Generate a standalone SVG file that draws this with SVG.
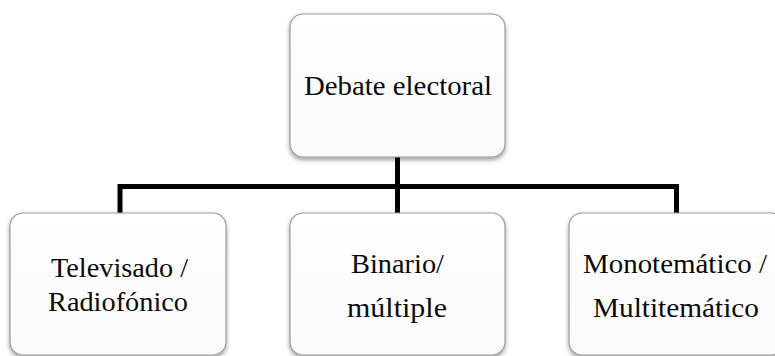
<svg xmlns="http://www.w3.org/2000/svg" width="775" height="356" viewBox="0 0 775 356">
<style>
.box{fill:url(#g);stroke:#9a9a9a;stroke-width:1.2;filter:url(#sh)}
.t{font-family:"Liberation Serif","Times New Roman",serif;font-size:26.5px;fill:#0a0a0a}
.c{fill:none;stroke:#000;stroke-width:5;stroke-linejoin:miter;stroke-linecap:butt}
</style>
<defs>
<linearGradient id="g" x1="0" y1="0" x2="0" y2="1">
<stop offset="0" stop-color="#ffffff"/>
<stop offset="1" stop-color="#fafafa"/>
</linearGradient>
<filter id="sh" x="-10%" y="-10%" width="120%" height="125%">
<feDropShadow dx="0" dy="2.5" stdDeviation="2" flood-color="#000" flood-opacity="0.38"/>
</filter>
</defs>
<rect width="775" height="356" fill="#fff"/>
<g id="connectors">
<path class="c" d="M397.5,157 V213"/>
<path class="c" d="M120,213 V186.5 H676.5 V213"/>
</g>
<g id="debate">
<rect class="box" x="290" y="14" width="215" height="143" rx="13"/>
<text class="t" x="304" y="95" textLength="188" lengthAdjust="spacingAndGlyphs">Debate electoral</text>
</g>
<g id="televisado">
<rect class="box" x="10" y="213" width="216" height="142" rx="13"/>
<text class="t" x="51" y="277" textLength="137" lengthAdjust="spacingAndGlyphs">Televisado /</text>
<text class="t" x="48" y="311" textLength="140" lengthAdjust="spacingAndGlyphs">Radiofónico</text>
</g>
<g id="binario">
<rect class="box" x="290" y="213" width="215" height="142" rx="13"/>
<text class="t" x="351" y="273" textLength="93" lengthAdjust="spacingAndGlyphs">Binario/</text>
<text class="t" x="347" y="317" textLength="100" lengthAdjust="spacingAndGlyphs">múltiple</text>
</g>
<g id="monotematico">
<rect class="box" x="569" y="213" width="215" height="142" rx="13"/>
<text class="t" x="583" y="273" textLength="184" lengthAdjust="spacingAndGlyphs">Monotemático /</text>
<text class="t" x="593" y="317" textLength="166" lengthAdjust="spacingAndGlyphs">Multitemático</text>
</g>
</svg>
